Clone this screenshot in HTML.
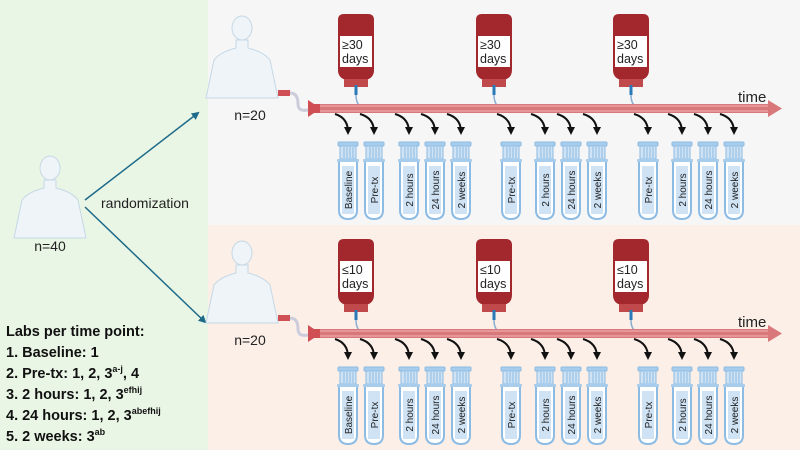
<!DOCTYPE html>
<html><head><meta charset="utf-8"><style>
html,body{margin:0;padding:0;width:800px;height:450px;overflow:hidden;background:#fff}
svg{display:block;font-family:"Liberation Sans",sans-serif}
</style></head><body>
<svg width="800" height="450" viewBox="0 0 800 450" xmlns="http://www.w3.org/2000/svg">
<defs>
<g id="person">
<ellipse cx="0" cy="-26" rx="10" ry="12" fill="#eef4f8" stroke="#c5d8e6" stroke-width="1"/>
<path d="M-6,-14 L-6,-6 Q-22,-2 -28,6 Q-32,25 -36,44 L36,44 Q32,25 28,6 Q22,-2 6,-6 L6,-14 Z" fill="#eef4f8" stroke="#c5d8e6" stroke-width="1"/>
</g>
<marker id="ah" markerWidth="8" markerHeight="8" refX="6" refY="4" orient="auto" markerUnits="userSpaceOnUse"><path d="M0,0 L8,4 L0,8 Z" fill="#1d6a8a"/></marker>
<marker id="bh" markerWidth="8" markerHeight="8" refX="5" refY="4" orient="auto" markerUnits="userSpaceOnUse"><path d="M0,0 L8,4 L0,8 Z" fill="#111"/></marker>
<g id="bag">
<path d="M-18,-30 Q-18,-36 -12,-36 L12,-36 Q18,-36 18,-30 L18,20 Q18,28 10,30 L-10,30 Q-18,28 -18,20 Z" fill="#a3282e"/>
<rect x="-16" y="-14" width="32" height="31" fill="#fff"/>
<path d="M-12,29 h24 v8 h-24z" fill="#c0494c"/>
<rect x="-1.5" y="35" width="3" height="10" fill="#2a7ab8"/>
<path d="M0,45 Q0,56 8,58" stroke="#8aaed0" stroke-width="1.5" fill="none"/>
</g>
<g id="tube">
<rect x="-10" y="0" width="20" height="4" rx="1" fill="#a8cdec" stroke="#8cbbe3"/>
<rect x="-8" y="4" width="16" height="13" fill="#cfe3f5" stroke="#8cbbe3"/>
<path d="M-4,5v11M-1,5v11M2,5v11M5,5v11" stroke="#8cbbe3"/>
<rect x="-11" y="17" width="22" height="3" rx="1" fill="#a8cdec"/>
<path d="M-9,20 V68 Q-9,77 0,77 Q9,77 9,68 V20" fill="#fff" stroke="#8cbbe3" stroke-width="2"/>
<rect x="-6" y="24" width="12" height="48" fill="#cfe3f5"/>
</g>
<g id="timeline">
<rect x="318" y="104" width="452" height="9" fill="#d9787b"/>
<path d="M318,106 H770 M318,111 H770" stroke="#f1b3b4" stroke-width="1"/>
<path d="M768,100 L782,108.5 L768,117 Z" fill="#d9787b"/>
<path d="M308,100 L314,104 L314,113 L308,117 Z" fill="#cf4f55"/>
<rect x="310" y="104" width="10" height="9" fill="#cf4f55"/>
<path d="M290,93 Q298,93 298,104 Q298,112 308,110" stroke="#ccd" stroke-width="3" fill="none"/>
<rect x="278" y="90" width="12" height="6" fill="#cf4f55"/>
<text x="738" y="102" font-size="15" fill="#222">time</text>
</g>
<g id="tubes">
<g fill="none" stroke="#111" stroke-width="2" marker-end="url(#bh)">
<path d="M335,114 Q348,118 348,132"/><path d="M360,114 Q374,118 374,132"/>
<path d="M395,114 Q409,118 409,132"/><path d="M421,114 Q435,118 435,132"/><path d="M447,114 Q461,118 461,132"/>
<path d="M497,114 Q511,118 511,132"/><path d="M531,114 Q545,118 545,132"/><path d="M557,114 Q571,118 571,132"/><path d="M583,114 Q597,118 597,132"/>
<path d="M634,114 Q648,118 648,132"/><path d="M668,114 Q682,118 682,132"/><path d="M694,114 Q708,118 708,132"/><path d="M720,114 Q734,118 734,132"/>
</g>
<use href="#tube" x="348" y="142"/><use href="#tube" x="374" y="142"/><use href="#tube" x="409" y="142"/><use href="#tube" x="435" y="142"/><use href="#tube" x="461" y="142"/>
<use href="#tube" x="511" y="142"/><use href="#tube" x="545" y="142"/><use href="#tube" x="571" y="142"/><use href="#tube" x="597" y="142"/>
<use href="#tube" x="648" y="142"/><use href="#tube" x="682" y="142"/><use href="#tube" x="708" y="142"/><use href="#tube" x="734" y="142"/>
<g font-size="10" fill="#222" text-anchor="middle">
<text transform="translate(352,190) rotate(-90)">Baseline</text>
<text transform="translate(378,190) rotate(-90)">Pre-tx</text>
<text transform="translate(413,190) rotate(-90)">2 hours</text>
<text transform="translate(439,190) rotate(-90)">24 hours</text>
<text transform="translate(465,190) rotate(-90)">2 weeks</text>
<text transform="translate(515,190) rotate(-90)">Pre-tx</text>
<text transform="translate(549,190) rotate(-90)">2 hours</text>
<text transform="translate(575,190) rotate(-90)">24 hours</text>
<text transform="translate(601,190) rotate(-90)">2 weeks</text>
<text transform="translate(652,190) rotate(-90)">Pre-tx</text>
<text transform="translate(686,190) rotate(-90)">2 hours</text>
<text transform="translate(712,190) rotate(-90)">24 hours</text>
<text transform="translate(738,190) rotate(-90)">2 weeks</text>
</g>
</g>
</defs>
<rect x="0" y="0" width="208" height="450" fill="#eaf6e5"/>
<rect x="208" y="0" width="592" height="225" fill="#f6f6f6"/>
<rect x="208" y="225" width="592" height="225" fill="#fcefe8"/>

<use href="#person" x="50" y="194"/>
<text x="50" y="251" font-size="14" text-anchor="middle" fill="#222">n=40</text>
<text x="101" y="208" font-size="14" fill="#222">randomization</text>
<line x1="85" y1="200" x2="198" y2="113" stroke="#1d6a8a" stroke-width="1.5" marker-end="url(#ah)"/>
<line x1="85" y1="207" x2="205" y2="322" stroke="#1d6a8a" stroke-width="1.5" marker-end="url(#ah)"/>

<g font-size="14.5" font-weight="bold" fill="#111">
<text x="6" y="336">Labs per time point:</text>
<text x="6" y="357">1. Baseline: 1</text>
<text x="6" y="378">2. Pre-tx: 1, 2, 3<tspan font-size="9" dy="-6">a-j</tspan><tspan dy="6">, 4</tspan></text>
<text x="6" y="399">3. 2 hours: 1, 2, 3<tspan font-size="9" dy="-6">efhij</tspan></text>
<text x="6" y="420">4. 24 hours: 1, 2, 3<tspan font-size="9" dy="-6">abefhij</tspan></text>
<text x="6" y="441">5. 2 weeks: 3<tspan font-size="9" dy="-6">ab</tspan></text>
</g>

<use href="#person" x="242" y="54"/>
<text x="250" y="120" font-size="14" text-anchor="middle" fill="#222">n=20</text>
<use href="#bag" x="356" y="50"/><use href="#bag" x="494" y="50"/><use href="#bag" x="631" y="50"/>
<g font-size="12.5" fill="#222">
<text x="342" y="49">≥30</text><text x="342" y="63">days</text>
<text x="480" y="49">≥30</text><text x="480" y="63">days</text>
<text x="617" y="49">≥30</text><text x="617" y="63">days</text>
</g>
<use href="#timeline"/>
<use href="#tubes"/>

<use href="#person" x="242" y="279"/>
<text x="250" y="345" font-size="14" text-anchor="middle" fill="#222">n=20</text>
<use href="#bag" x="356" y="275"/><use href="#bag" x="494" y="275"/><use href="#bag" x="631" y="275"/>
<g font-size="12.5" fill="#222">
<text x="342" y="274">≤10</text><text x="342" y="288">days</text>
<text x="480" y="274">≤10</text><text x="480" y="288">days</text>
<text x="617" y="274">≤10</text><text x="617" y="288">days</text>
</g>
<use href="#timeline" y="225"/>
<use href="#tubes" y="225"/>
</svg>
</body></html>
